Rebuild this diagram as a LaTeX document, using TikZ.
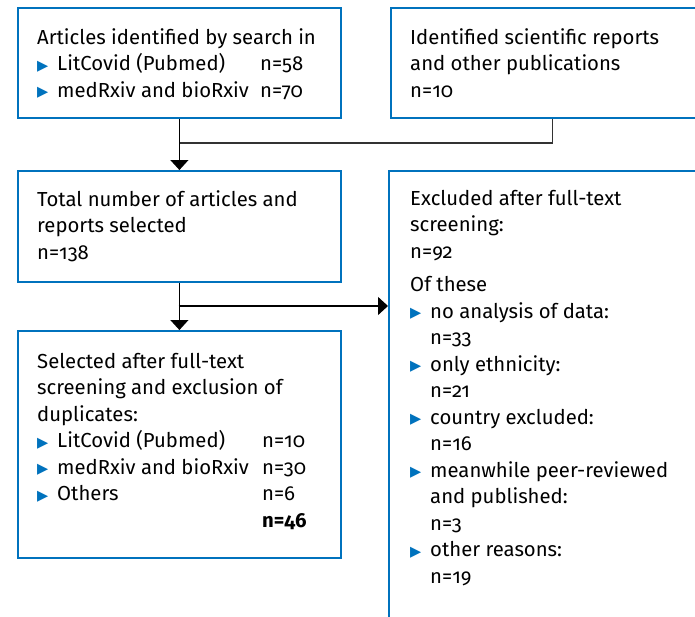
\documentclass[tikz,border=0pt]{standalone}
\usepackage{fontspec}
\setmainfont{Fira Sans}[Numbers=OldStyle]
\newfontfamily\symf{DejaVu Sans}
\usepackage{tikz}
\usetikzlibrary{positioning,calc,arrows.meta}
\definecolor{boxblue}{RGB}{0,114,189}
\tikzset{box/.style = {draw=boxblue,line width=1.8pt,minimum width=323pt,anchor=north west,inner sep=0pt},
         txt/.style = {anchor=base west,inner sep=0pt,align=left},
         arr/.style = {-{Triangle[width=18pt,length=10pt]},line width=1.2pt}}
\newcommand{\bul}{\makebox[20pt][l]{\raisebox{0.5pt}{\textcolor{boxblue}{\fontsize{14.5}{14}\symf ▶}}}}
\newcommand{\lines}[1]{\parbox[t]{320pt}{\fontsize{20.3}{26.5}\selectfont #1}}
\begin{document}
\begin{tikzpicture}[x=1pt,y=-1pt]
    \clip (0,0) rectangle (695,616);
    \fill[white] (0,0) rectangle (695,616);
    % boxes
    \node [box,minimum height=110pt] (search)   at ( 17,  7) {};
    \node [box,minimum height=110pt] (reports)  at (390,  7) {};
    \node [box,minimum height=111pt] (total)    at ( 17,170) {};
    \node [box,minimum height=470pt] (excluded) at (388,170) {};
    \node [box,minimum height=227pt] (selected) at ( 17,330) {};

    % texts
    \node [txt] (searchtxt) at (37,44) {\lines{Articles identified by search in\\
        \bul\makebox[203pt][l]{LitCovid (Pubmed)}n=58\\
        \bul\makebox[203pt][l]{medRxiv and bioRxiv}n=70}};
    \node [txt] (reportstxt) at (410,44) {\lines{Identified scientific reports\\
        and other publications\\ n=10}};
    \node [txt] (totaltxt) at (37,206) {\lines{Total number of articles and\\
        reports selected\\ n=138}};
    \node [txt] (selectedtxt) at (37,368) {\lines{Selected after full-text\\
        screening and exclusion of\\ duplicates:\\
        \bul\makebox[205pt][l]{LitCovid (Pubmed)}n=10\\
        \bul\makebox[205pt][l]{medRxiv and bioRxiv}n=30\\
        \bul\makebox[205pt][l]{Others}n=6\\
        \hspace*{225pt}\textbf{n=46}}};
    \node [txt] (excludedtxt) at (410,205) {\lines{Excluded after full-text\\
        screening:\\ n=92\\[7pt]
        Of these\\
        \bul no analysis of data:\\ \hspace*{20pt}n=33\\
        \bul only ethnicity:\\ \hspace*{20pt}n=21\\
        \bul country excluded:\\ \hspace*{20pt}n=16\\
        \bul meanwhile peer-reviewed\\ \hspace*{20pt}and published:\\ \hspace*{20pt}n=3\\
        \bul other reasons:\\ \hspace*{20pt}n=19}};

    % connectors
    \coordinate (join) at (178.5,143);
    \coordinate (fork) at (178.5,306);
    \draw [line width=1.2pt,black!80] (reports.south) |- (join);
    \draw [arr] (search.south) -- (total.north);
    \draw [arr] (total.south) -- (selected.north);
    \draw [arr] (fork) -- (fork -| excluded.west);
\end{tikzpicture}
\end{document}
